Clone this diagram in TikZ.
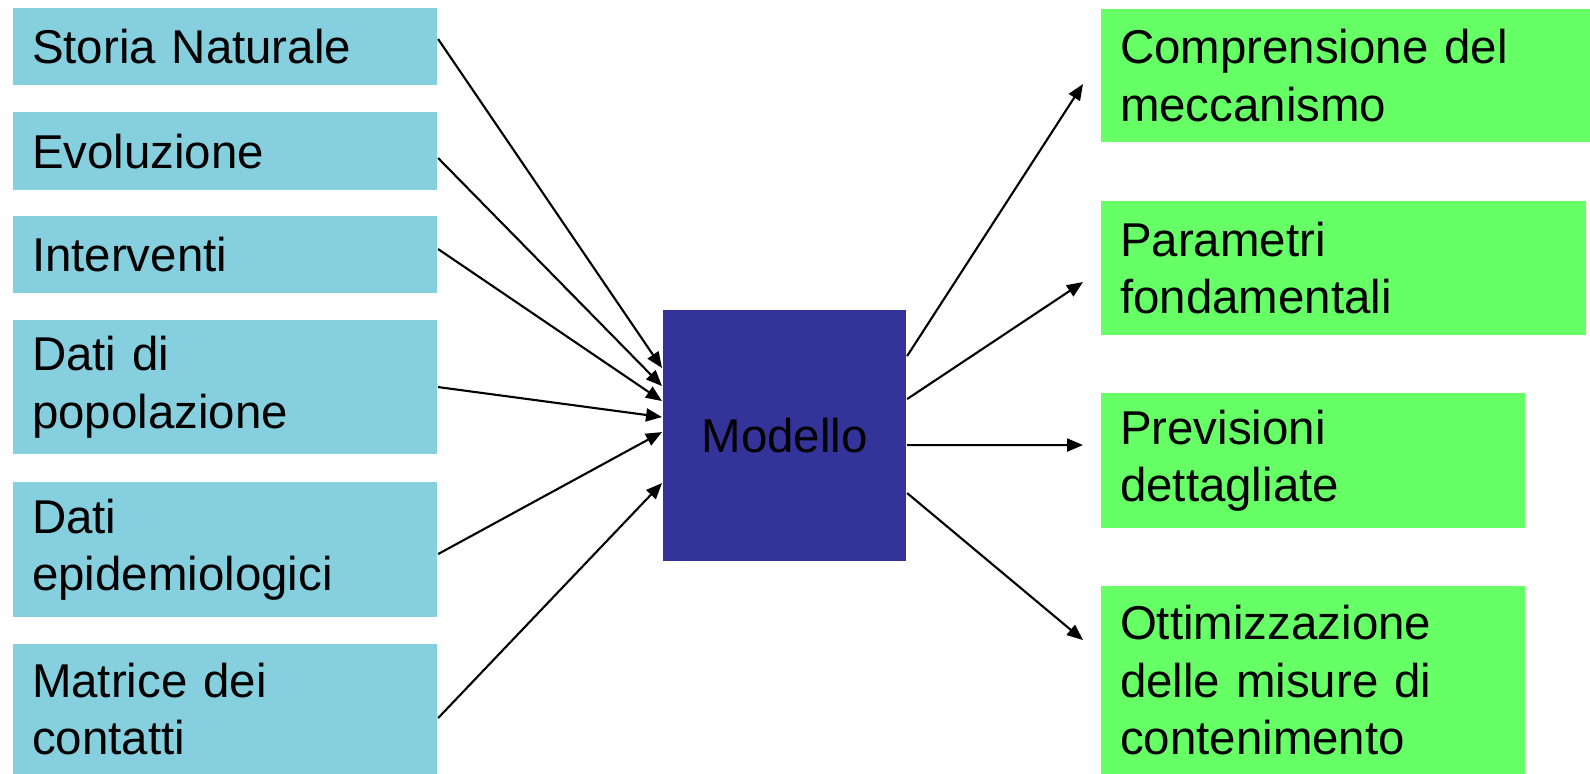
\documentclass[tikz,border=0pt]{standalone}
\usepackage{fontspec}
\setmainfont{Liberation Sans}
\usepackage{tikz}
\usetikzlibrary{positioning}
\usetikzlibrary{calc}
\usetikzlibrary{arrows.meta}
\definecolor{incol}{RGB}{133,207,222}
\definecolor{outcol}{RGB}{102,255,102}
\definecolor{modcol}{RGB}{51,51,153}
\tikzset{every picture/.style={line width=0.6pt}}
\begin{document}
\begin{tikzpicture}[font=\fontsize{13.5pt}{16.4pt}\selectfont,
inbox/.style={fill=incol, anchor=north west, align=left, text width=3.86cm, inner xsep=0.19cm, inner ysep=0pt},
outbox/.style={inbox, fill=outcol},
arr/.style={-{Triangle[length=1.6mm,width=1.3mm]}}]
\useasboundingbox (0,0) rectangle (15.9,-7.73);
% inputs
\node (storia) at (0.12,-0.07) [inbox, minimum height=0.77cm] {Storia Naturale};
\node (evol) at (0.12,-1.11) [inbox, minimum height=0.78cm] {Evoluzione};
\node (interv) at (0.12,-2.15) [inbox, minimum height=0.77cm] {Interventi};
\node (popol) at (0.12,-3.19) [inbox, minimum height=1.34cm] {Dati di\\popolazione};
\node (epid) at (0.12,-4.81) [inbox, minimum height=1.35cm] {Dati\\epidemiologici};
\node (matr) at (0.12,-6.43) [inbox, minimum height=1.30cm] {Matrice dei\\contatti};
% model
\node (modello) at (6.62,-3.09) [anchor=north west, fill=modcol, minimum width=2.43cm, minimum height=2.51cm] {Modello};
% outputs
\node (compr) at (11.00,-0.08) [outbox, text width=4.52cm, minimum height=1.33cm] {Comprensione del\\meccanismo};
\node (param) at (11.00,-2.00) [outbox, text width=4.47cm, minimum height=1.34cm] {Parametri\\fondamentali};
\node (prev) at (11.00,-3.92) [outbox, minimum height=1.35cm] {Previsioni\\dettagliate};
\node (ottim) at (11.00,-5.85) [outbox, minimum height=1.88cm] {Ottimizzazione\\delle misure di\\contenimento};
\foreach \a/\s/\e in {storia/0.075/0.675, evol/-0.07/0.495, interv/0.055/0.345, popol/0/0.185, epid/-0.045/0.035, matr/-0.09/-0.475} {
\draw[arr] ([yshift=\s cm]\a.east) -- ([yshift=\e cm]modello.west);
}
\foreach \b/\s/\e in {compr/0.795/-0.085, param/0.365/-0.14, prev/-0.095/0.155, ottim/-0.575/0.40} {
\draw[arr] ([yshift=\s cm]modello.east) -- ([xshift=-0.17cm,yshift=\e cm]\b.west);
}
\end{tikzpicture}
\end{document}
